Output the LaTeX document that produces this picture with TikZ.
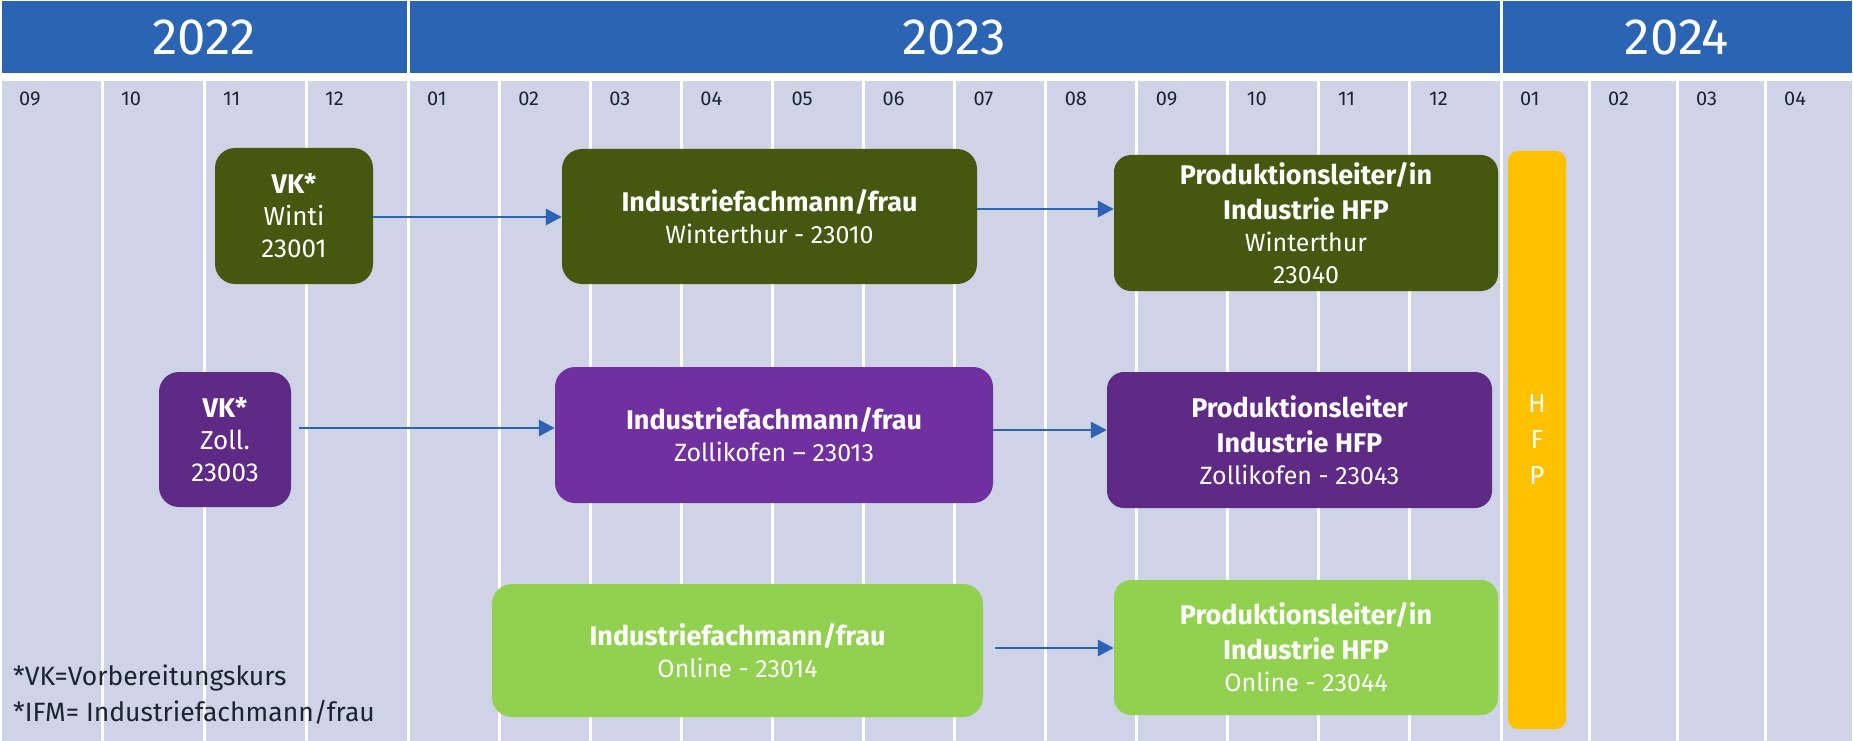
\documentclass[tikz,border=0pt]{standalone}
\usepackage{fontspec}
\setmainfont{Fira Sans}
\usetikzlibrary{arrows.meta}
\definecolor{hdrblue}{HTML}{2B64B3}
\definecolor{cellgrey}{HTML}{CED4E6}
\definecolor{olive}{HTML}{44580F}
\definecolor{dpurple}{HTML}{5E2A85}
\definecolor{mpurple}{HTML}{7030A0}
\definecolor{lgreen}{HTML}{92D050}
\definecolor{gold}{HTML}{FFC000}
\definecolor{arrblue}{HTML}{2C63B5}
\definecolor{darktext}{HTML}{1C2432}
\newcommand{\ttlfont}{\fontsize{27}{32}\selectfont\bfseries}
\begin{document}
\begin{tikzpicture}[x=1pt,y=-1pt,
  hdr/.style={fill=hdrblue,draw=none},
  cell/.style={fill=cellgrey,draw=none},
  yearlbl/.style={text=white,font=\fontsize{51}{55}\selectfont,anchor=base,inner sep=0},
  monthlbl/.style={text=darktext,font=\fontsize{20}{22}\selectfont,anchor=base west,inner sep=0},
  box/.style={rounded corners=20pt,inner sep=0,text=white,align=center,
    font=\fontsize{25}{32}\selectfont},
  vkbox/.style={box,font=\fontsize{26}{32}\selectfont},
  arr/.style={draw=arrblue,line width=2.8pt,-{Triangle[length=16pt,width=16pt]}},
]
\useasboundingbox (0,0) rectangle (1853,741);
\fill[white] (0,0) rectangle (1853,741);
% header
\fill[hdr] (1.5,1) rectangle (406.5,73);
\fill[hdr] (409.5,1) rectangle (1499.5,73);
\fill[hdr] (1502.5,1) rectangle (1851.5,73);
\node[yearlbl] (y22) at (204,55) {2022};
\node[yearlbl] (y23) at (954.5,55) {2023};
\node[yearlbl] (y24) at (1677,55) {2024};
% month cells
\foreach \a/\b/\m [count=\i] in {
  0/102/09, 102/204/10, 204/306/11, 306/408/12,
  408/499.08/01, 499.08/590.17/02, 590.17/681.25/03, 681.25/772.33/04,
  772.33/863.42/05, 863.42/954.5/06, 954.5/1045.58/07, 1045.58/1136.67/08,
  1136.67/1227.75/09, 1227.75/1318.83/10, 1318.83/1409.92/11, 1409.92/1501/12,
  1501/1589/01, 1589/1677/02, 1677/1765/03, 1765/1853/04}{
  \fill[cell] (\a+1.5,81) rectangle (\b-1.5,741);
  \node[monthlbl] (m\i) at (\a+19,106) {\m};
}
% boxes
\node[vkbox,fill=olive,minimum width=158pt,minimum height=136pt] (vkw) at (294,216)
  {{\ttlfont VK*}\\Winti\\23001};
\node[box,fill=olive,minimum width=415pt,minimum height=135pt] (ifmw) at (769.5,216.5)
  {{\ttlfont Industriefachmann/frau}\\Winterthur - 23010};
\node[box,fill=olive,minimum width=384pt,minimum height=136pt,rounded corners=17pt] (plw) at (1306,223)
  {{\ttlfont Produktionsleiter/in}\\[3pt]{\ttlfont Industrie HFP}\\Winterthur\\23040};
\node[vkbox,fill=dpurple,minimum width=132pt,minimum height=135pt] (vkz) at (225,439.5)
  {{\ttlfont VK*}\\Zoll.\\23003};
\node[box,fill=mpurple,minimum width=438pt,minimum height=136pt] (ifmz) at (774,435)
  {{\ttlfont Industriefachmann/frau}\\Zollikofen – 23013};
\node[box,fill=dpurple,minimum width=385pt,minimum height=136pt,rounded corners=17pt] (plz) at (1299.5,440)
  {{\ttlfont Produktionsleiter}\\[3pt]{\ttlfont Industrie HFP}\\Zollikofen - 23043};
\node[box,fill=lgreen,minimum width=491pt,minimum height=133pt] (ifmo) at (737.5,650.5)
  {{\ttlfont Industriefachmann/frau}\\Online - 23014};
\node[box,fill=lgreen,minimum width=384pt,minimum height=135pt,rounded corners=17pt] (plo) at (1306,647.5)
  {{\ttlfont Produktionsleiter/in}\\[3pt]{\ttlfont Industrie HFP}\\Online - 23044};
\node[box,fill=gold,minimum width=58pt,minimum height=578pt,rounded corners=10pt,
  font=\fontsize{26}{36}\selectfont] (hfp) at (1537,440) {H\\F\\P};
% connectors
\draw[arr] (vkw.east |- 0,217) -- (ifmw.west |- 0,217);
\draw[arr] (ifmw.east |- 0,209) -- (plw.west |- 0,209);
\draw[arr,shorten <=8pt] (vkz.east |- 0,428) -- (ifmz.west |- 0,428);
\draw[arr] (ifmz.east |- 0,430) -- (plz.west |- 0,430);
\draw[arr,shorten <=12pt] (ifmo.east |- 0,648) -- (plo.west |- 0,648);
% legend
\node[text=darktext,font=\fontsize{26.5}{36}\selectfont,align=left,anchor=north west,inner sep=0] (legend) at (13,665)
  {*VK=Vorbereitungskurs\\*IFM= Industriefachmann/frau};
\end{tikzpicture}
\end{document}
